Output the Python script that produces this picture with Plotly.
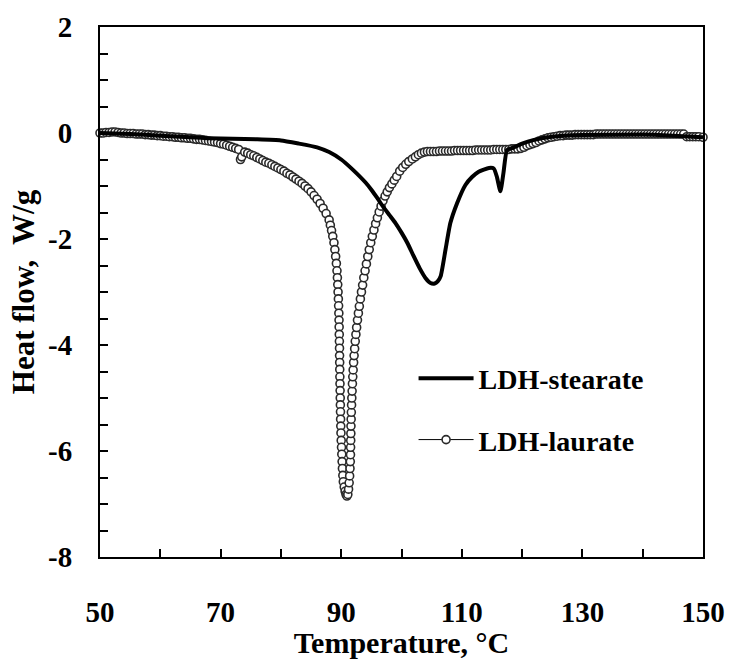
import plotly.graph_objects as go

# LDH-stearate (solid thick line)
stearate_T = [50, 55, 60, 65, 68, 72, 76, 80, 83, 86, 88, 90, 92, 94, 95, 96, 97, 98, 99, 100,
              101, 102, 103, 104, 104.8, 105.5, 106.0, 106.5, 107.3, 108.1, 109.2, 110.6, 111.7,
              112.8, 114.5, 115.3, 115.8, 116.4, 116.9, 117.5, 118.5, 120, 122, 125, 130, 140, 145, 150]
stearate_Q = [0.00, -0.02, -0.05, -0.08, -0.10, -0.11, -0.12, -0.14, -0.20, -0.27, -0.36, -0.50, -0.70,
              -0.93, -1.07, -1.23, -1.40, -1.55, -1.70, -1.88, -2.08, -2.32, -2.55, -2.74, -2.83, -2.84,
              -2.80, -2.70, -2.20, -1.70, -1.33, -0.98, -0.83, -0.73, -0.66, -0.67, -0.82, -1.10, -0.76,
              -0.32, -0.28, -0.20, -0.13, -0.07, -0.04, -0.03, -0.05, -0.08]

# LDH-laurate (open circles), densely sampled as in the DSC record
laurate_T = [
    50.0, 50.5, 51.0, 51.5, 52.0, 52.5, 53.0, 53.5, 54.0, 54.5, 55.0, 55.5, 56.0, 56.5, 57.0, 57.5,
    58.0, 58.5, 59.0, 59.5, 60.0, 60.5, 61.0, 61.5, 62.0, 62.5, 63.0, 63.5, 64.0, 64.5, 65.0, 65.5,
    66.0, 66.5, 67.0, 67.5, 68.0, 68.5, 69.0, 69.5, 70.0, 70.5, 71.0, 71.5, 72.0, 72.5, 73.0, 73.3,
    73.5, 74.0, 74.5, 75.0, 75.5, 76.0, 76.5, 77.0, 77.5, 78.0, 78.5, 79.0, 79.5, 80.0, 80.5, 81.0,
    81.5, 82.0, 82.5, 83.0, 83.5, 84.0, 84.5, 85.0, 85.5, 86.0, 86.5, 87.0, 87.5, 88.0,
    88.2, 88.4, 88.6, 88.8, 88.95, 89.08, 89.2, 89.3, 89.37, 89.43, 89.48, 89.53, 89.57, 89.61,
    89.64, 89.66, 89.68, 89.7, 89.72, 89.73, 89.75, 89.76, 89.78, 89.8, 89.82, 89.84, 89.86, 89.88,
    89.9, 89.93, 89.96, 90.0, 90.05, 90.1, 90.15, 90.2, 90.27, 90.35,
    90.5, 90.65, 90.8, 90.95, 91.1, 91.22, 91.32, 91.4, 91.46, 91.51, 91.54, 91.56, 91.58, 91.6,
    91.62, 91.65, 91.68, 91.72, 91.76, 91.81, 91.86, 91.92, 91.98, 92.06, 92.14, 92.23, 92.33, 92.44,
    92.56, 92.7, 92.85, 93.01, 93.18, 93.36, 93.55, 93.75, 93.96, 94.18, 94.41, 94.65, 94.9, 95.16,
    95.43, 95.71, 96.0, 96.3, 96.61, 96.93, 97.28, 97.63, 98.0, 98.4, 98.8, 99.2, 99.7, 100.2,
    100.7, 101.2, 101.8,
    102.3, 102.8, 103.3, 103.8, 104.3, 104.8, 105.3, 105.8, 106.3, 106.8, 107.3, 107.8, 108.3, 108.8,
    109.3, 109.8, 110.3, 110.8, 111.3, 111.8, 112.3, 112.8, 113.3, 113.8, 114.3, 114.8, 115.3, 115.8,
    116.3, 116.8, 117.3, 117.8, 118.3, 118.8, 119.3, 119.8, 120.3, 120.8, 121.3, 121.8, 122.3, 122.8,
    123.3, 123.8, 124.3, 124.8, 125.3, 125.8, 126.3, 126.8, 127.3, 127.8, 128.3, 128.8, 129.3, 129.8,
    130.3, 130.8, 131.3, 131.8, 132.3, 132.8, 133.3, 133.8, 134.3, 134.8, 135.3, 135.8, 136.3, 136.8,
    137.3, 137.8, 138.3, 138.8, 139.3, 139.8, 140.3, 140.8, 141.3, 141.8, 142.3, 142.8, 143.3, 143.8,
    144.3, 144.8, 145.3, 145.8, 146.3, 146.8, 147.3, 147.8, 148.3, 148.8, 149.3, 150.0]
laurate_Q = [
    0.00, 0.00, 0.01, 0.01, 0.02, 0.02, 0.01, 0.00, 0.00, -0.01, -0.01, -0.01, -0.02, -0.02, -0.02, -0.03,
    -0.03, -0.04, -0.04, -0.05, -0.05, -0.06, -0.06, -0.07, -0.07, -0.08, -0.08, -0.09, -0.09, -0.10, -0.10, -0.11,
    -0.12, -0.12, -0.13, -0.14, -0.15, -0.16, -0.17, -0.18, -0.20, -0.21, -0.23, -0.25, -0.27, -0.29, -0.31, -0.50,
    -0.45, -0.36, -0.38, -0.41, -0.43, -0.46, -0.49, -0.52, -0.55, -0.57, -0.60, -0.63, -0.66, -0.69, -0.72, -0.76,
    -0.79, -0.83, -0.87, -0.91, -0.95, -1.00, -1.05, -1.11, -1.18, -1.25, -1.33, -1.42, -1.52, -1.64,
    -1.74, -1.84, -1.95, -2.07, -2.20, -2.33, -2.46, -2.60, -2.73, -2.86, -3.00, -3.13, -3.26, -3.40,
    -3.53, -3.66, -3.80, -3.93, -4.06, -4.20, -4.33, -4.46, -4.60, -4.73, -4.86, -5.00, -5.13, -5.26,
    -5.40, -5.53, -5.66, -5.80, -5.93, -6.06, -6.20, -6.33, -6.46, -6.58, -6.68, -6.76, -6.82, -6.85,
    -6.82, -6.72, -6.60, -6.47, -6.33, -6.20, -6.07, -5.93, -5.80, -5.67, -5.53, -5.40, -5.27, -5.13,
    -5.00, -4.87, -4.73, -4.60, -4.47, -4.33, -4.20, -4.07, -3.93, -3.80, -3.67, -3.53, -3.40, -3.27,
    -3.13, -3.00, -2.87, -2.73, -2.60, -2.47, -2.33, -2.20, -2.07, -1.95, -1.83, -1.71, -1.60, -1.49,
    -1.38, -1.28, -1.19, -1.11, -1.03, -0.96, -0.89, -0.82, -0.72, -0.65, -0.59, -0.54, -0.49, -0.45,
    -0.41, -0.38, -0.36,
    -0.35, -0.35, -0.35, -0.35, -0.34, -0.34, -0.34, -0.34, -0.34, -0.33, -0.33, -0.33, -0.33, -0.33,
    -0.33, -0.33, -0.32, -0.32, -0.32, -0.32, -0.32, -0.32, -0.31, -0.31, -0.31, -0.31, -0.31, -0.31,
    -0.30, -0.30, -0.30, -0.29, -0.27, -0.24, -0.22, -0.20, -0.18, -0.15, -0.13, -0.11, -0.09, -0.08,
    -0.07, -0.06, -0.05, -0.05, -0.04, -0.04, -0.04, -0.03, -0.03, -0.03, -0.03, -0.03, -0.03, -0.03,
    -0.02, -0.02, -0.02, -0.02, -0.02, -0.02, -0.02, -0.02, -0.02, -0.02, -0.02, -0.02, -0.02, -0.02,
    -0.02, -0.02, -0.02, -0.02, -0.02, -0.02, -0.02, -0.02, -0.02, -0.02, -0.02, -0.02, -0.02, -0.02,
    -0.02, -0.02, -0.07, -0.07, -0.07, -0.07, -0.07, -0.08, -0.08, -0.08, -0.08, -0.08]

x_tick_vals = [50, 70, 90, 110, 130, 150]
y_tick_vals = [2, 0, -2, -4, -6, -8]

FONT = "Liberation Serif, Times New Roman, serif"

fig = go.Figure()
fig.add_trace(go.Scatter(
    x=laurate_T, y=laurate_Q, name="LDH-laurate", mode="lines+markers",
    line=dict(color="black", width=1),
    marker=dict(symbol="circle", size=8, color="white", line=dict(color="#2a2a2a", width=1.6)),
    cliponaxis=False, legendrank=2, legendgroup="b",
))
fig.add_trace(go.Scatter(
    x=stearate_T, y=stearate_Q, name="LDH-stearate", mode="lines",
    line=dict(color="black", width=4, shape="spline", smoothing=0.5),
    legendrank=1, legendgroup="a",
))

fig.update_layout(
    width=729, height=659,
    margin=dict(l=100, r=26, t=27, b=102),
    paper_bgcolor="white", plot_bgcolor="white",
    font=dict(family=FONT, size=28, color="black", weight="bold"),
    showlegend=True,
    legend=dict(
        x=0.52, y=0.384, xanchor="left", yanchor="top",
        bgcolor="rgba(0,0,0,0)", borderwidth=0,
        font=dict(family=FONT, size=28, color="black", weight="bold"),
        itemwidth=55, tracegroupgap=22,
    ),
)
fig.update_xaxes(
    range=[50, 150], tickvals=x_tick_vals, ticktext=[str(v) for v in x_tick_vals],
    ticks="inside", ticklen=8, tickwidth=2, tickcolor="black",
    minor=dict(dtick=10, ticks="inside", ticklen=8, tickwidth=2, tickcolor="black", showgrid=False),
    showline=True, linecolor="black", linewidth=2, mirror=True, automargin=False,
    showgrid=False, zeroline=False, ticklabelstandoff=28,
    tickfont=dict(family=FONT, size=29, weight="bold"),
    title=dict(text="Temperature, °C", standoff=16,
               font=dict(family=FONT, size=30, weight="bold")),
)
fig.update_yaxes(
    range=[-8, 2], tickvals=y_tick_vals, ticktext=[str(v) for v in y_tick_vals],
    ticks="inside", ticklen=8, tickwidth=2, tickcolor="black",
    minor=dict(dtick=0.5, ticks="inside", ticklen=8, tickwidth=2, tickcolor="black", showgrid=False),
    showline=True, linecolor="black", linewidth=2, mirror=True, automargin=False,
    showgrid=False, zeroline=False, ticklabelstandoff=20,
    tickfont=dict(family=FONT, size=29, weight="bold"),
    title=dict(text="Heat flow,  W/g", standoff=4,
               font=dict(family=FONT, size=31, weight="bold")),
)

fig.write_html("out.html")
